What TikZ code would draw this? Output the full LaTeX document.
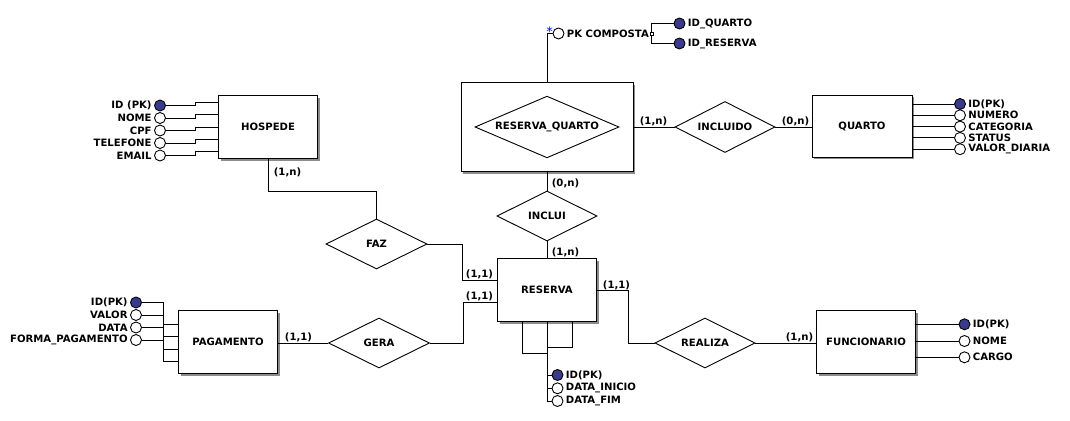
\documentclass[tikz,border=0pt]{standalone}
\usepackage{fontspec}
\setmainfont{DejaVu Sans}
\usetikzlibrary{shapes.geometric,shadows}
\definecolor{pkblue}{RGB}{58,58,140}
\tikzset{
  entity/.style={draw,fill=white,minimum width=99pt,minimum height=63pt,
    drop shadow={shadow xshift=2pt,shadow yshift=-2pt,fill=black!45,opacity=1}},
  relation/.style={draw,fill=white,diamond,aspect=2,inner sep=0pt,
    minimum width=101pt,minimum height=50pt},
  attr/.style={draw,circle,fill=white,inner sep=0pt,minimum size=11pt},
  pk/.style={attr,fill=pkblue},
  card/.style={inner sep=0pt},
  lbl/.style={inner sep=2pt}
}
\begin{document}
\begin{tikzpicture}[x=1pt,y=-1pt,line width=0.9pt,
    font=\fontsize{10.1}{11}\selectfont\bfseries]
\useasboundingbox (0,0) rectangle (1070,420);

% entities and relationships
\node[entity,minimum width=172pt,minimum height=89pt] (resquarto) at (547,127) {};
\node[relation,minimum width=144pt,minimum height=60pt] (resquartorel) at (547,127) {RESERVA\_QUARTO};
\node[entity] (hospede) at (268,127) {HOSPEDE};
\node[entity,minimum width=100pt,minimum height=62pt] (quarto) at (862,126) {QUARTO};
\node[entity] (reserva) at (547,290) {RESERVA};
\node[entity] (pagamento) at (228,342) {PAGAMENTO};
\node[entity] (funcionario) at (866,342) {FUNCIONARIO};
\node[relation,minimum width=100pt,minimum height=51pt] (incluido) at (725,127) {INCLUIDO};
\node[relation,minimum width=100pt] (inclui) at (547,216) {INCLUI};
\node[relation] (faz) at (376.5,244) {FAZ};
\node[relation] (gera) at (379,343) {GERA};
\node[relation,minimum width=100pt] (realiza) at (705,343) {REALIZA};

\draw (resquarto.east) -- (incluido.west);
\draw (incluido.east) -- (incluido.east -| quarto.west);
\draw (resquarto.south) -- (inclui.north);
\draw (inclui.south) -- (reserva.north);
\draw (hospede.south) -- ++(0,32) -| (faz.north);
\draw (faz.east) -- ++(35,0) |- ([yshift=10pt]reserva.west);
\draw (gera.east) -- ++(33,0) |- ([yshift=-12pt]reserva.west);
\draw (gera.west) -- (gera.west -| pagamento.east);
\draw (reserva.east) -- ++(31,0) |- (realiza.west);
\draw (realiza.east) -- (realiza.east -| funcionario.west);

% cardinalities
\node[card] (c1) at (287.5,172) {(1,n)};
\node[card] (c2) at (479.5,274) {(1,1)};
\node[card] (c3) at (479.5,296) {(1,1)};
\node[card] (c4) at (298.5,337) {(1,1)};
\node[card] (c5) at (565.5,183) {(0,n)};
\node[card] (c6) at (565.5,252) {(1,n)};
\node[card] (c7) at (616.5,285) {(1,1)};
\node[card] (c8) at (799.5,337.5) {(1,n)};
\node[card] (c9) at (653.5,121.5) {(1,n)};
\node[card] (c10) at (795.5,121.5) {(0,n)};

% attributes
\foreach \s/\t/\yc/\yb [count=\i] in {pk/ID (PK)/105.5/102.5, attr/NOME/118/114.5,
    attr/CPF/130.5/127, attr/TELEFONE/143/139, attr/EMAIL/155.5/151}{
  \node[\s] (hosp\i) at (160,\yc) {};
  \node[lbl,anchor=east] (hosplbl\i) at (hosp\i.west) {\t};
  \draw (hosp\i.east) -- (195,\yc) |- (hospede.west |- 0,\yb);
}
\foreach \s/\t/\yc/\yb [count=\i] in {pk/ID(PK)/302.5/324, attr/VALOR/315/336,
    attr/DATA/327.5/349, attr/FORMA\_PAGAMENTO/340/361.5}{
  \node[\s] (pag\i) at (136,\yc) {};
  \node[lbl,anchor=east] (paglbl\i) at (pag\i.west) {\t};
  \draw (pag\i.east) -- (163,\yc) |- (pagamento.west |- 0,\yb);
}
\foreach \s/\t/\y [count=\i] in {pk/ID(PK)/104, attr/NUMERO/115.3, attr/CATEGORIA/126.6,
    attr/STATUS/137.9, attr/VALOR\_DIARIA/149.2}{
  \node[\s] (qto\i) at (960,\y) {};
  \node[lbl,anchor=west] (qtolbl\i) at (qto\i.east) {\t};
  \draw (quarto.east |- qto\i) -- (qto\i.west);
}
\foreach \s/\t/\y [count=\i] in {pk/ID(PK)/324.3, attr/NOME/341, attr/CARGO/357.3}{
  \node[\s] (func\i) at (964.5,\y) {};
  \node[lbl,anchor=west] (funclbl\i) at (func\i.east) {\t};
  \draw (funcionario.east |- func\i) -- (func\i.west);
}
\draw (reserva.south) -- (reserva.south |- 0,401);
\draw ([xshift=-25pt]reserva.south) |- (reserva.south |- 0,353);
\draw ([xshift=25pt]reserva.south) |- (reserva.south |- 0,347);
\foreach \s/\t/\y [count=\i] in {pk/ID(PK)/375, attr/DATA\_INICIO/388.3, attr/DATA\_FIM/401}{
  \node[\s] (rsv\i) at (557.5,\y) {};
  \node[lbl,anchor=west] (rsvlbl\i) at (rsv\i.east) {\t};
  \draw (reserva.south |- rsv\i) -- (rsv\i.west);
}

% composite key
\node[attr] (pkc) at (558.5,33.5) {};
\node[inner sep=0pt,text=blue,font=\fontsize{13}{13}\selectfont] (pkstar) at (549.5,32) {*};
\node[lbl,anchor=west] (pkclbl) at (pkc.east) {PK COMPOSTA};
\node[draw,fill=white,inner sep=0pt,minimum size=3pt,line width=0.6pt] (pkjoin) at (651.5,33.5) {};
\node[pk] (idq) at (679.5,23.5) {};
\node[pk] (idr) at (679.5,43.5) {};
\node[lbl,anchor=west] (idqlbl) at (idq.east) {ID\_QUARTO};
\node[lbl,anchor=west] (idrlbl) at (idr.east) {ID\_RESERVA};
\draw (resquarto.north) |- (pkc.west);
\draw (idq.west) -| (pkjoin.north);
\draw (idr.west) -| (pkjoin.south);
\end{tikzpicture}
\end{document}
